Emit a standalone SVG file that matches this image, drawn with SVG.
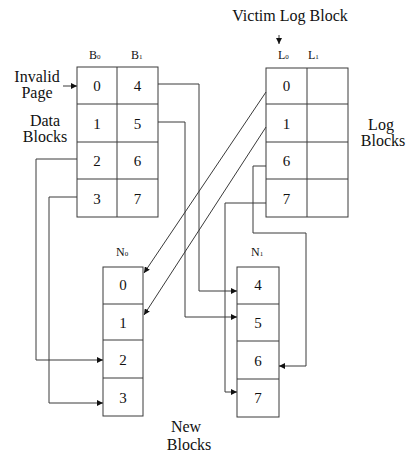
<svg xmlns="http://www.w3.org/2000/svg" width="407" height="456" viewBox="0 0 407 456">
<defs>
<style>
.cell{fill:none;stroke:#3a3a3a;stroke-width:1}
.conn{fill:none;stroke:#3a3a3a;stroke-width:1}
.dig{font-family:"Liberation Serif","Times New Roman",serif;font-size:15px;text-anchor:middle;fill:#111}
.lbl{font-family:"Liberation Serif","Times New Roman",serif;font-size:16px;text-anchor:middle;fill:#111}
.sub{font-family:"Liberation Serif","Times New Roman",serif;font-size:12px;fill:#111}
.s{font-size:7px}
</style>
<marker id="ah" viewBox="0 0 10 10" refX="10" refY="5" markerWidth="6" markerHeight="6" markerUnits="userSpaceOnUse" orient="auto">
<path d="M0,0 L10,5 L0,10 z" fill="#111"/>
</marker>
</defs>
<rect width="407" height="456" fill="#fff"/>

<g id="data-blocks">
<rect class="cell" x="77" y="67" width="81" height="150"/>
<line class="cell" x1="117" y1="67" x2="117" y2="217"/>
<line class="cell" x1="77" y1="104" x2="158" y2="104"/>
<line class="cell" x1="77" y1="142" x2="158" y2="142"/>
<line class="cell" x1="77" y1="179" x2="158" y2="179"/>
<text class="dig" x="97" y="91">0</text>
<text class="dig" x="97" y="129">1</text>
<text class="dig" x="97" y="166">2</text>
<text class="dig" x="97" y="204">3</text>
<text class="dig" x="137.5" y="91">4</text>
<text class="dig" x="137.5" y="129">5</text>
<text class="dig" x="137.5" y="166">6</text>
<text class="dig" x="137.5" y="204">7</text>
<text class="sub" x="89" y="59">B<tspan class="s" dy="0">0</tspan></text>
<text class="sub" x="131" y="59">B<tspan class="s" dy="0">1</tspan></text>
<text class="lbl" x="45" y="126">Data</text>
<text class="lbl" x="45" y="142">Blocks</text>
</g>

<g id="invalid-page">
<text class="lbl" x="37" y="82">Invalid</text>
<text class="lbl" x="37" y="98">Page</text>
<line class="conn" x1="63" y1="86" x2="77" y2="86" marker-end="url(#ah)"/>
</g>

<g id="log-blocks">
<rect class="cell" x="266" y="68" width="82" height="149"/>
<line class="cell" x1="307" y1="68" x2="307" y2="217"/>
<line class="cell" x1="266" y1="104" x2="348" y2="104"/>
<line class="cell" x1="266" y1="142" x2="348" y2="142"/>
<line class="cell" x1="266" y1="179" x2="348" y2="179"/>
<text class="dig" x="286.5" y="91">0</text>
<text class="dig" x="286.5" y="129">1</text>
<text class="dig" x="286.5" y="166">6</text>
<text class="dig" x="286.5" y="204">7</text>
<text class="sub" x="278" y="59">L<tspan class="s">0</tspan></text>
<text class="sub" x="308" y="59">L<tspan class="s">1</tspan></text>
<text class="lbl" x="381" y="130">Log</text>
<text class="lbl" x="383" y="146">Blocks</text>
</g>

<g id="victim-log-block">
<text class="lbl" x="290" y="21">Victim Log Block</text>
<line class="conn" x1="279" y1="35" x2="279" y2="44" marker-end="url(#ah)"/>
</g>

<g id="new-block-n0">
<rect class="cell" x="103" y="267" width="40" height="149"/>
<line class="cell" x1="103" y1="304" x2="143" y2="304"/>
<line class="cell" x1="103" y1="340" x2="143" y2="340"/>
<line class="cell" x1="103" y1="378" x2="143" y2="378"/>
<text class="dig" x="123" y="290">0</text>
<text class="dig" x="123" y="328">1</text>
<text class="dig" x="123" y="365">2</text>
<text class="dig" x="123" y="403">3</text>
<text class="sub" x="116" y="256">N<tspan class="s">0</tspan></text>
</g>

<g id="new-block-n1">
<rect class="cell" x="237" y="267" width="42" height="150"/>
<line class="cell" x1="237" y1="304" x2="279" y2="304"/>
<line class="cell" x1="237" y1="341" x2="279" y2="341"/>
<line class="cell" x1="237" y1="379" x2="279" y2="379"/>
<text class="dig" x="258" y="290">4</text>
<text class="dig" x="258" y="328">5</text>
<text class="dig" x="258" y="366">6</text>
<text class="dig" x="258" y="403">7</text>
<text class="sub" x="251" y="256">N<tspan class="s">1</tspan></text>
</g>

<g id="new-blocks-label">
<text class="lbl" x="186" y="432">New</text>
<text class="lbl" x="189" y="450">Blocks</text>
</g>

<g id="connectors">
<polyline class="conn" points="158,84 199,84 199,291 237,291" marker-end="url(#ah)"/>
<polyline class="conn" points="158,122 185,122 185,317 237,317" marker-end="url(#ah)"/>
<polyline class="conn" points="266,166 253,166 253,233 306,233 306,366 279,366" marker-end="url(#ah)"/>
<polyline class="conn" points="266,203 225,203 225,392 237,392" marker-end="url(#ah)"/>
<polyline class="conn" points="77,159 36,159 36,360 103,360" marker-end="url(#ah)"/>
<polyline class="conn" points="77,197 49,197 49,403 103,403" marker-end="url(#ah)"/>
<line class="conn" x1="266" y1="92" x2="144" y2="273" marker-end="url(#ah)"/>
<line class="conn" x1="266" y1="127" x2="144" y2="315" marker-end="url(#ah)"/>
</g>
</svg>
